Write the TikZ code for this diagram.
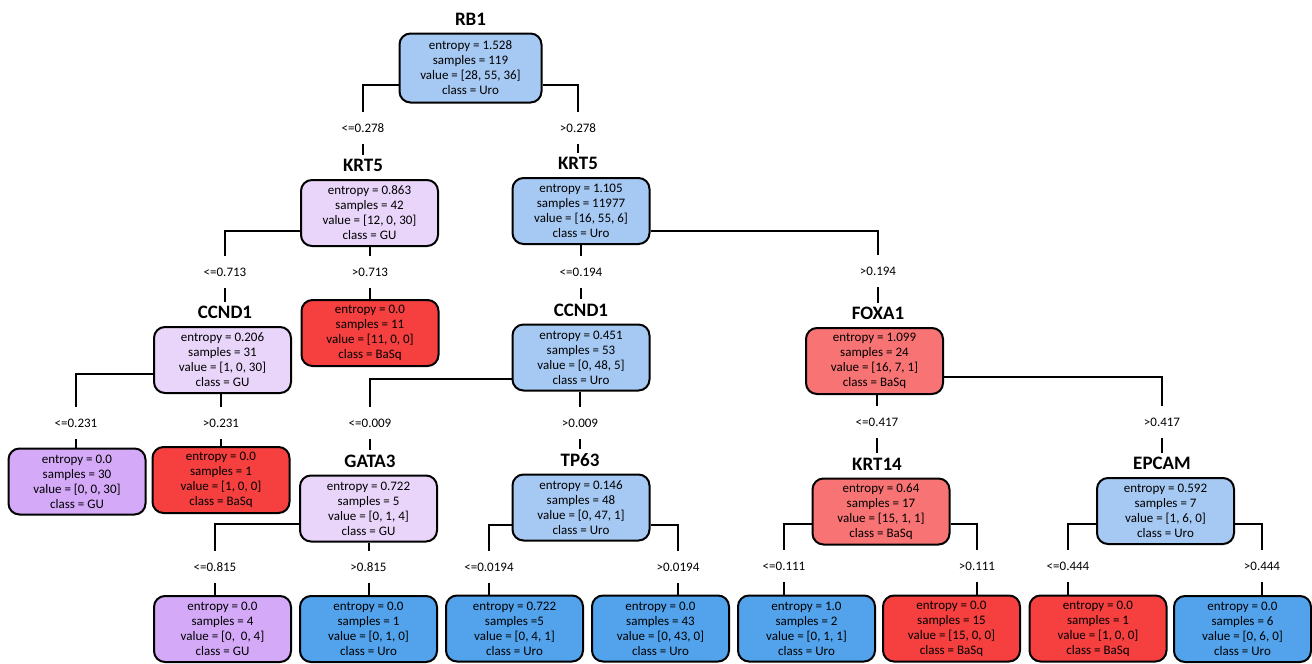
\documentclass[tikz,border=0pt]{standalone}
\usepackage{fontspec}
\setmainfont{Carlito}
\definecolor{uroL}{RGB}{166,201,243}
\definecolor{uroD}{RGB}{82,163,236}
\definecolor{guL}{RGB}{233,213,250}
\definecolor{guD}{RGB}{212,169,248}
\definecolor{baD}{RGB}{246,64,64}
\definecolor{baL}{RGB}{248,115,115}
\begin{document}
\begin{tikzpicture}[x=1pt,y=-1pt,
 tbox/.style={draw=black, line width=2pt, rounded corners=11pt, minimum width=137pt, minimum height=66pt, align=center, inner sep=0pt, font=\fontsize{13}{15}\selectfont},
 ttl/.style={font=\bfseries\fontsize{19}{22}\selectfont, inner sep=0pt, minimum height=22pt, anchor=south, yshift=2pt},
 lab/.style={font=\fontsize{13}{15}\selectfont, inner sep=0pt, minimum height=32pt},
 conn/.style={line width=2pt}]
\useasboundingbox (0,0) rectangle (1312,664);
% boxes
\node[tbox, fill=uroL, minimum width=142pt, minimum height=69pt] (rb1) at (470.5,68) {entropy = 1.528\\samples = 119\\value = [28, 55, 36]\\class = Uro};
\node[tbox, fill=guL] (krtL) at (369.5,213) {entropy = 0.863\\samples = 42\\value = [12, 0, 30]\\class = GU};
\node[tbox, fill=uroL] (krtR) at (581,211) {entropy = 1.105\\samples = 11977\\value = [16, 55, 6]\\class = Uro};
\node[tbox, fill=baD] (lfA) at (370,333) {entropy = 0.0\\samples = 11\\value = [11, 0, 0]\\class = BaSq};
\node[tbox, fill=guL] (ccL) at (222.5,360) {entropy = 0.206\\samples = 31\\value = [1, 0, 30]\\class = GU};
\node[tbox, fill=uroL] (ccR) at (581,357.5) {entropy = 0.451\\samples = 53\\value = [0, 48, 5]\\class = Uro};
\node[tbox, fill=baL] (fox) at (874.5,361) {entropy = 1.099\\samples = 24\\value = [16, 7, 1]\\class = BaSq};
\node[tbox, fill=guD] (lfB) at (77,481.5) {entropy = 0.0\\samples = 30\\value = [0, 0, 30]\\class = GU};
\node[tbox, fill=baD] (lfC) at (221,480) {entropy = 0.0\\samples = 1\\value = [1, 0, 0]\\class = BaSq};
\node[tbox, fill=guL] (gat) at (368.5,508.5) {entropy = 0.722\\samples = 5\\value = [0, 1, 4]\\class = GU};
\node[tbox, fill=uroL] (tp) at (581,507.5) {entropy = 0.146\\samples = 48\\value = [0, 47, 1]\\class = Uro};
\node[tbox, fill=baL] (k14) at (881,511.5) {entropy = 0.64\\samples = 17\\value = [15, 1, 1]\\class = BaSq};
\node[tbox, fill=uroL] (ep) at (1165.5,511) {entropy = 0.592\\samples = 7\\value = [1, 6, 0]\\class = Uro};
\node[tbox, fill=guD] (lfD) at (222.5,629) {entropy = 0.0\\samples = 4\\value = [0,\ \ 0, 4]\\class = GU};
\node[tbox, fill=uroD] (lfE) at (368.5,629) {entropy = 0.0\\samples = 1\\value = [0, 1, 0]\\class = Uro};
\node[tbox, fill=uroD] (lfF) at (514.5,628.5) {entropy = 0.722\\samples =5\\value = [0, 4, 1]\\class = Uro};
\node[tbox, fill=uroD] (lfG) at (660.5,628.5) {entropy = 0.0\\samples = 43\\value = [0, 43, 0]\\class = Uro};
\node[tbox, fill=uroD] (lfH) at (806.5,628.5) {entropy = 1.0\\samples = 2\\value = [0, 1, 1]\\class = Uro};
\node[tbox, fill=baD] (lfI) at (951.5,628.5) {entropy = 0.0\\samples = 15\\value = [15, 0, 0]\\class = BaSq};
\node[tbox, fill=baD] (lfJ) at (1098,628.5) {entropy = 0.0\\samples = 1\\value = [1, 0, 0]\\class = BaSq};
\node[tbox, fill=uroD] (lfK) at (1242.5,629) {entropy = 0.0\\samples = 6\\value = [0, 6, 0]\\class = Uro};
% labels
\node[lab] (l1) at (363,128) {<=0.278};
\node[lab] (l2) at (578,128) {>0.278};
\node[lab] (l3) at (225,272) {<=0.713};
\node[lab] (l4) at (370,272) {>0.713};
\node[lab] (l5) at (581,272) {<=0.194};
\node[lab] (l6) at (878,271) {>0.194};
\node[lab] (l7) at (76,423) {<=0.231};
\node[lab] (l8) at (221,423) {>0.231};
\node[lab] (l9) at (370,423) {<=0.009};
\node[lab] (l10) at (580,423) {>0.009};
\node[lab] (l11) at (877,422) {<=0.417};
\node[lab] (l12) at (1162,422) {>0.417};
\node[lab] (l13) at (215,567) {<=0.815};
\node[lab] (l14) at (368.5,567) {>0.815};
\node[lab] (l15) at (489,567) {<=0.0194};
\node[lab] (l16) at (678,567) {>0.0194};
\node[lab] (l17) at (784,566) {<=0.111};
\node[lab] (l18) at (977,566) {>0.111};
\node[lab] (l19) at (1068,566) {<=0.444};
\node[lab] (l20) at (1262,566) {>0.444};
% titles
\node[ttl] (t1) at (rb1.north) {RB1};
\node[ttl] (t2) at (l1.center |- krtL.north) {KRT5};
\node[ttl] (t3) at (l2.center |- krtR.north) {KRT5};
\node[ttl] (t4) at (l3.center |- ccL.north) {CCND1};
\node[ttl] (t5) at (l5.center |- ccR.north) {CCND1};
\node[ttl] (t6) at (l6.center |- fox.north) {FOXA1};
\node[ttl] (t7) at (l9.center |- gat.north) {GATA3};
\node[ttl] (t8) at (l10.center |- tp.north) {TP63};
\node[ttl] (t9) at (l11.center |- k14.north) {KRT14};
\node[ttl] (t10) at (l12.center |- ep.north) {EPCAM};
% connectors
\draw[conn] ([yshift=-17pt]rb1.west) -| (l1.north);
\draw[conn] (l1.south) -- (t2.north);
\draw[conn] ([yshift=-17pt]rb1.east) -| (l2.north);
\draw[conn] (l2.south) -- (t3.north);
\draw[conn] ([yshift=-18pt]krtL.west) -| (l3.north);
\draw[conn] (l3.south) -- (t4.north);
\draw[conn] (l4.north |- krtL.south) -- (l4.north);
\draw[conn] (l4.south) -- (l4.south |- lfA.north);
\draw[conn] (l5.north |- krtR.south) -- (l5.north);
\draw[conn] (l5.south) -- (t5.north);
\draw[conn] ([yshift=-20pt]krtR.east) -| (l6.north);
\draw[conn] (l6.south) -- (t6.north);
\draw[conn] ([yshift=-14pt]ccL.west) -| (l7.north);
\draw[conn] (l7.south) -- (l7.south |- lfB.north);
\draw[conn] (l8.north |- ccL.south) -- (l8.north);
\draw[conn] (l8.south) -- (l8.south |- lfC.north);
\draw[conn] ([yshift=-21pt]ccR.west) -| (l9.north);
\draw[conn] (l9.south) -- (t7.north);
\draw[conn] (l10.north |- ccR.south) -- (l10.north);
\draw[conn] (l10.south) -- (t8.north);
\draw[conn] (l11.north |- fox.south) -- (l11.north);
\draw[conn] (l11.south) -- (t9.north);
\draw[conn] ([yshift=-16pt]fox.east) -| (l12.north);
\draw[conn] (l12.south) -- (t10.north);
\draw[conn] ([yshift=-15pt]gat.west) -| (l13.north);
\draw[conn] (l13.south) -- (l13.south |- lfD.north);
\draw[conn] (l14.north |- gat.south) -- (l14.north);
\draw[conn] (l14.south) -- (l14.south |- lfE.north);
\draw[conn] ([yshift=-17pt]tp.west) -| (l15.north);
\draw[conn] (l15.south) -- (l15.south |- lfF.north);
\draw[conn] ([yshift=-17pt]tp.east) -| (l16.north);
\draw[conn] (l16.south) -- (l16.south |- lfG.north);
\draw[conn] ([yshift=-12pt]k14.west) -| (l17.north);
\draw[conn] (l17.south) -- (l17.south |- lfH.north);
\draw[conn] ([yshift=-12pt]k14.east) -| (l18.north);
\draw[conn] (l18.south) -- (l18.south |- lfI.north);
\draw[conn] ([yshift=-13pt]ep.west) -| (l19.north);
\draw[conn] (l19.south) -- (l19.south |- lfJ.north);
\draw[conn] ([yshift=-13pt]ep.east) -| (l20.north);
\draw[conn] (l20.south) -- (l20.south |- lfK.north);
\end{tikzpicture}
\end{document}
